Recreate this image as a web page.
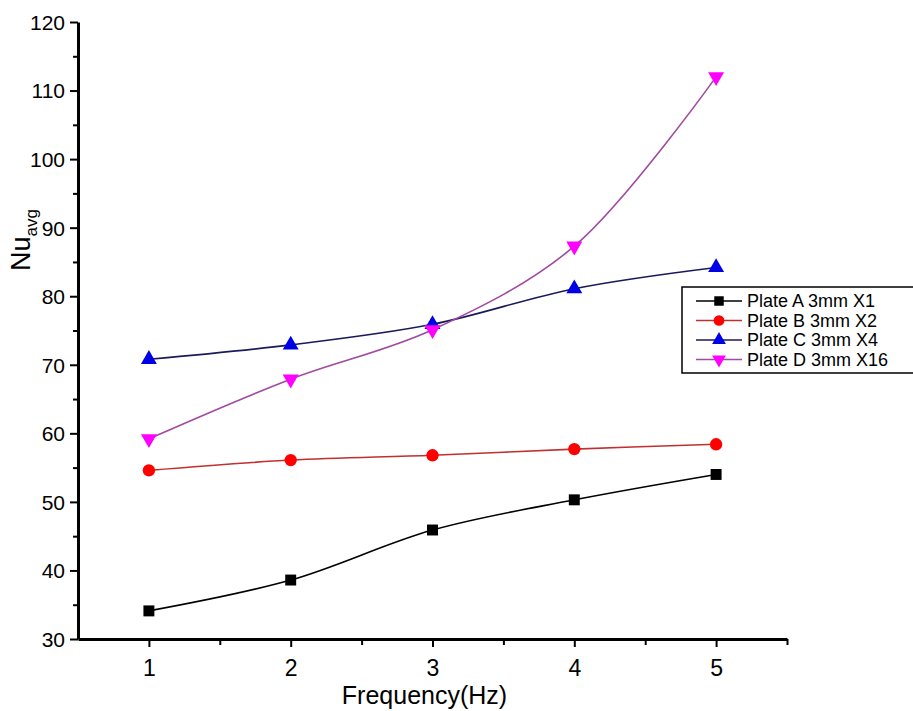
<!DOCTYPE html>
<html>
<head>
<meta charset="utf-8">
<script src="https://cdn.jsdelivr.net/npm/d3@7"></script>
<style>
	body { margin: 0; background: #fff; }
	text { font-family: "Liberation Sans", Arial, sans-serif; fill: #000; }
</style>
</head>
<body>
<div id="chart"></div>
<script>
const frequencies = [1, 2, 3, 4, 5];
const plateA = [34.1, 38.6, 45.9, 50.3, 54.0];
const plateB = [54.6, 56.1, 56.8, 57.7, 58.4];
const plateC = [70.8, 72.9, 75.9, 81.1, 84.2];
const plateD = [59.2, 67.9, 75.1, 87.3, 112.0];
const seriesNames = ["Plate A 3mm X1", "Plate B 3mm X2", "Plate C 3mm X4", "Plate D 3mm X16"];
const yTicks = [30, 40, 50, 60, 70, 80, 90, 100, 110, 120];

const size = { w: 913, h: 711 };
const margin = { t: 22, r: 126, b: 72, l: 78 };

const svg = d3
	.select("#chart")
	.append("svg")
	.attr("width", size.w)
	.attr("height", size.h);

const x = d3
	.scaleLinear()
	.domain([0.5, 5.5])
	.range([margin.l, size.w - margin.r]);
const y = d3
	.scaleLinear()
	.domain([30, 120])
	.range([size.h - margin.b, margin.t]);

const series = [
	{ name: seriesNames[0], values: plateA, line: "#000000", fill: "#000000", shape: d3.symbolSquare, size: 120, rot: 0 },
	{ name: seriesNames[1], values: plateB, line: "#c03030", fill: "#ff0000", shape: d3.symbolCircle, size: 120, rot: 0 },
	{ name: seriesNames[2], values: plateC, line: "#1a1a5a", fill: "#0000e6", shape: d3.symbolTriangle, size: 110, rot: 0 },
	{ name: seriesNames[3], values: plateD, line: "#a04aa0", fill: "#ff00ff", shape: d3.symbolTriangle, size: 110, rot: 180 },
];

// axes
const xAxis = d3
	.axisBottom(x)
	.tickValues(d3.range(1, 5.51, 0.5))
	.tickSize(0)
	.tickFormat("");
const gx = svg
	.append("g")
	.attr("transform", `translate(0, ${y(30)})`)
	.call(xAxis);
gx.select(".domain").attr("stroke-width", 3);
gx.selectAll(".tick line")
	.attr("y2", (d) => (Number.isInteger(d) ? 8 : 6))
	.attr("stroke-width", 2);
gx.selectAll(".tick")
	.filter((d) => Number.isInteger(d))
	.append("text")
	.attr("y", 37)
	.attr("text-anchor", "middle")
	.style("font-size", "23px")
	.text((d) => d);

const yAxis = d3
	.axisLeft(y)
	.tickValues(d3.range(30, 120.1, 5))
	.tickSize(0)
	.tickFormat("");
const gy = svg
	.append("g")
	.attr("transform", `translate(${x(0.5)}, 0)`)
	.call(yAxis);
gy.select(".domain").attr("stroke-width", 3);
gy.selectAll(".tick line")
	.attr("x2", (d) => (yTicks.includes(d) ? -8 : -5))
	.attr("stroke-width", 2);
gy.selectAll(".tick")
	.filter((d) => yTicks.includes(d))
	.append("text")
	.attr("x", -13)
	.attr("dy", "0.35em")
	.attr("text-anchor", "end")
	.style("font-size", "21px")
	.text((d) => d);

// axis titles
svg.append("text")
	.attr("x", (x(0.5) + x(5.5)) / 2 - 8)
	.attr("y", 704)
	.attr("text-anchor", "middle")
	.style("font-size", "25px")
	.text("Frequency(Hz)");

const yTitle = svg
	.append("text")
	.attr("transform", `translate(30, 240) rotate(-90)`)
	.attr("text-anchor", "middle")
	.style("font-size", "27px");
yTitle.append("tspan").text("Nu");
yTitle.append("tspan").attr("dy", 7).style("font-size", "17px").text("avg");

// lines + markers
const line = d3
	.line()
	.x((d, i) => x(frequencies[i]))
	.y((d) => y(d))
	.curve(d3.curveCatmullRom.alpha(0.5));

series.forEach((s) => {
	svg.append("path")
		.datum(s.values)
		.attr("fill", "none")
		.attr("stroke", s.line)
		.attr("stroke-width", 1.6)
		.attr("d", line);
	svg.append("g")
		.selectAll("path")
		.data(s.values)
		.join("path")
		.attr("d", d3.symbol().type(s.shape).size(s.size))
		.attr("transform", (d, i) => `translate(${x(frequencies[i])}, ${y(d)}) rotate(${s.rot})`)
		.attr("fill", s.fill);
});

// legend
const legend = svg.append("g").attr("transform", "translate(682, 287)");
legend.append("rect")
	.attr("width", 240)
	.attr("height", 86)
	.attr("fill", "#fff")
	.attr("stroke", "#000")
	.attr("stroke-width", 1.5);
const items = legend
	.selectAll(".item")
	.data(series)
	.join("g")
	.attr("class", "item")
	.attr("transform", (d, i) => `translate(0, ${14 + i * 19.5})`);
items.append("line")
	.attr("x1", 14)
	.attr("x2", 60)
	.attr("stroke", (d) => d.line)
	.attr("stroke-width", 1.6);
items.append("path")
	.attr("d", (d) => d3.symbol().type(d.shape).size(d.size * 0.75)())
	.attr("transform", (d) => `translate(37, 0) rotate(${d.rot})`)
	.attr("fill", (d) => d.fill);
items.append("text")
	.attr("x", 65)
	.attr("dy", "0.35em")
	.style("font-size", "18px")
	.text((d) => d.name);
</script>
</body>
</html>
